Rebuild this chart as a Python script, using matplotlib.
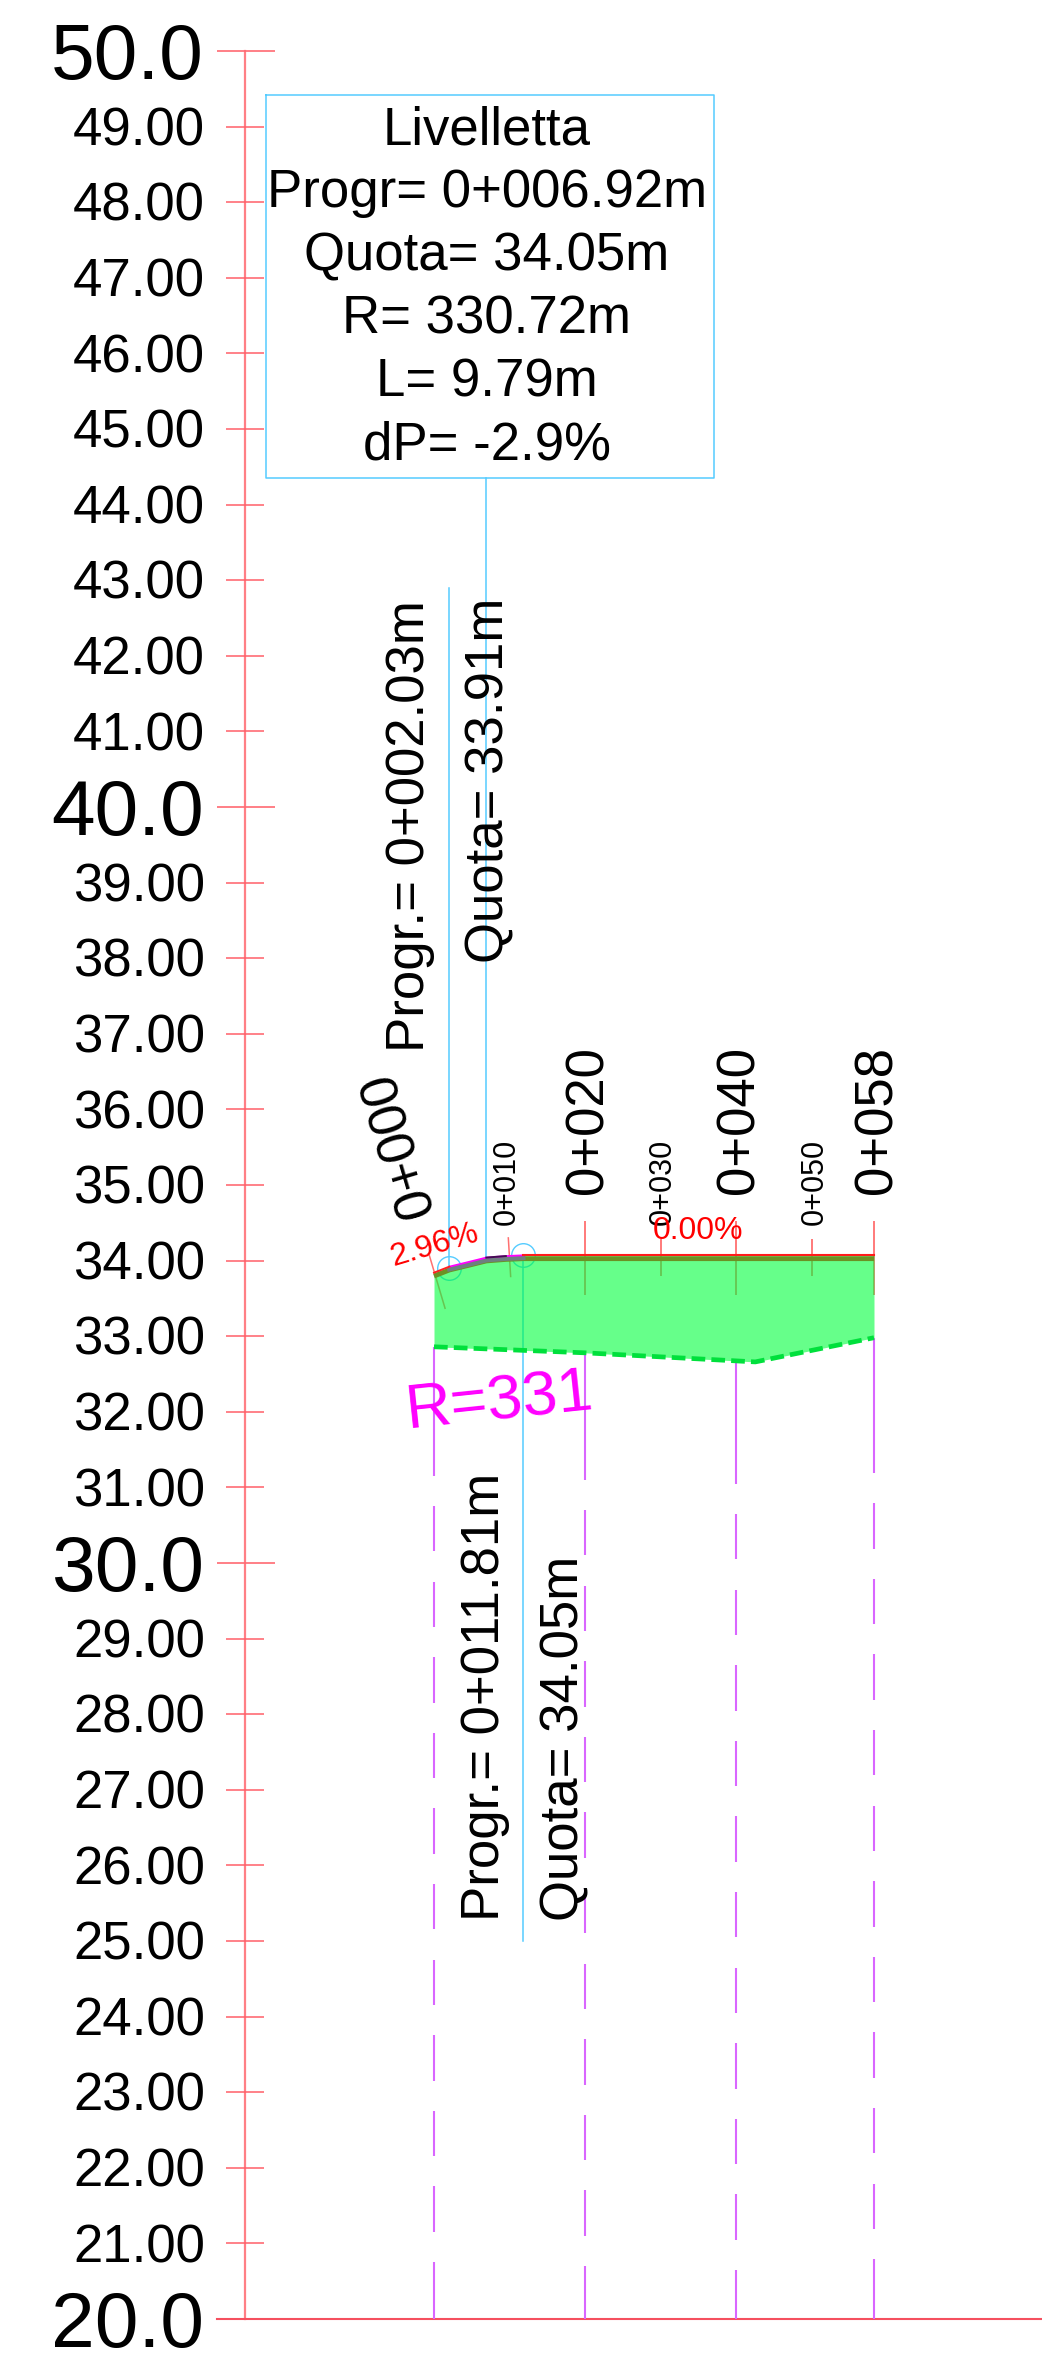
"""Profilo longitudinale: livelletta, terreno e sezione di scavo."""

import matplotlib

matplotlib.use("Agg")

import matplotlib.pyplot as plt
import numpy as np

plt.rcParams["font.family"] = ["Liberation Sans", "DejaVu Sans"]

# elevation axis
major_elev = [50, 40, 30, 20]
minor_elev = [49, 48, 47, 46, 45, 44, 43, 42, 41, 39, 38, 37, 36, 35, 34, 33,
              32, 31, 29, 28, 27, 26, 25, 24, 23, 22, 21]

# stations
major_ch = [20, 40, 58.2]
major_names = ["0+020", "0+040", "0+058"]
minor_ch = [30, 50]
minor_names = ["0+030", "0+050"]

# project grade line
grade_ch = [0, 2.03, 4.5, 6.92, 9.5, 11.81, 58.2]
grade_z = [33.84, 33.92, 33.98, 34.04, 34.06, 34.07, 34.07]

# ground line
ground_ch = [0, 20, 42.5, 58.2]
ground_z = [32.86, 32.78, 32.66, 32.98]

# drop lines at the main stations
drop_ch = [0, 20, 40, 58.2]
drop_top = [32.86, 32.78, 32.68, 32.98]
drop_phase = [20.754, 20.70, 20.648, 20.79]

box_lines = ["Livelletta", "Progr= 0+006.92m", "Quota= 34.05m", "R= 330.72m",
             "L= 9.79m", "dP= -2.9%"]
box_baseline = [48.76, 47.94, 47.10, 46.26, 45.43, 44.59]

PX_PER_M = 7.56
PX_PER_Z = 75.6
X0 = 434
Y50 = 51
W, H = 1042, 2371

RED = "#ff7f85"
CYAN = "#55ccff"
PURPLE = "#d966ff"

fig = plt.figure(figsize=(W / 100, H / 100), dpi=100)
ax = fig.add_axes([0, 0, 1, 1])
ax.set_xlim(-X0 / PX_PER_M, (W - X0) / PX_PER_M)
ax.set_ylim(50 - (H - Y50) / PX_PER_Z, 50 + Y50 / PX_PER_Z)
ax.axis("off")

# elevation ruler
ax.plot([-25, -25], [20, 50], color=RED, lw=1.6, zorder=1)
ax.plot([-28.75, (W - X0) / PX_PER_M], [20, 20], color="#f5505f", lw=1.5, zorder=1)
ax.hlines(minor_elev, -27.5, -22.5, color="#ff5f68", lw=1.1, zorder=1)
ax.hlines(major_elev[:-1], -28.75, -21, color="#ff6a72", lw=1.2, zorder=1)
for z in minor_elev:
    ax.text(-30.3, z - 0.247, f"{z:.2f}", ha="right", va="baseline", fontsize=38)
for z in major_elev:
    ax.text(-30.46, z - 0.37, f"{z:.1f}", ha="right", va="baseline", fontsize=56.5)

# dashed drop lines, one elevation unit per dash period
for ch, top, phase in zip(drop_ch, drop_top, drop_phase):
    upper = np.arange(phase, top - 0.3, 1.0)
    lower = np.maximum(upper - 0.6, 20)
    lower[0] = 20
    upper[-1] = top
    ax.vlines([ch] * len(upper), lower, upper, color=PURPLE, lw=1.5, zorder=1)

# station ticks
ax.vlines(major_ch, 33.54, 34.53, color="#ff7070", lw=1.3, zorder=2)
ax.vlines(minor_ch, 33.79, 34.28, color="#ff7070", lw=1.3, zorder=2)
ax.plot([-0.62, 1.46], [34.07, 33.37], color="#ff7070", lw=1.1, zorder=2)
ax.plot([9.83, 10.14], [34.30, 33.79], color="#ff7070", lw=1.1, zorder=2)

# survey leaders and their circles, under the fill
ax.plot([2.03, 2.03], [33.9, 42.9], color=CYAN, lw=1.1, zorder=2)
ax.plot([6.92, 6.92], [34.04, 44.35], color=CYAN, lw=1.1, zorder=2)
ax.plot([11.81, 11.81], [34.07, 25.0], color=CYAN, lw=1.1, zorder=2)
ax.plot([2.03, 11.81], [33.9, 34.07], ls="none", marker="o", ms=17, mfc="none",
        mec=CYAN, mew=1.0, zorder=2)

# excavated section
fill_ch = sorted(set(grade_ch + ground_ch))
ax.fill_between(fill_ch, np.interp(fill_ch, ground_ch, ground_z),
                np.interp(fill_ch, grade_ch, grade_z),
                color="#00ff3c", alpha=0.6, lw=0, zorder=3)

# grade line
ax.plot(grade_ch, np.array(grade_z) - 0.045, color="#6b9224", lw=3.4, zorder=4,
        solid_capstyle="butt")
ax.plot(grade_ch[1:6], np.array(grade_z[1:6]) - 0.035, color="#6e7f80", lw=3.2, zorder=4)
ax.plot(grade_ch[1:6], grade_z[1:6], color="#ff00ff", lw=1.3, zorder=5)
ax.plot(grade_ch[3:5], grade_z[3:5], color="#401050", lw=1.4, zorder=5)
ax.plot(grade_ch[:2], grade_z[:2], color="#ff2020", lw=1.4, zorder=5)
ax.plot(grade_ch[5:], grade_z[5:], color="#ff1a1a", lw=1.5, zorder=5)

# ground line
ax.plot(ground_ch, ground_z, color="#00e03c", lw=3.4, ls=(0, (2.9, 1.3)), zorder=5)

# station names
ax.text(-4.6, 35.54, "0+000", rotation=106.5, ha="center", va="center", fontsize=38)
for ch, name in zip(major_ch, major_names):
    ax.text(ch + 0.45, 34.88, name, rotation=90, ha="center", va="bottom", fontsize=38)
ax.text(9.65, 34.47, "0+010", rotation=90, ha="center", va="bottom", fontsize=22)
for ch, name in zip(minor_ch, minor_names):
    ax.text(ch + 0.3, 34.47, name, rotation=90, ha="center", va="bottom", fontsize=22)

# vertical callouts
ax.text(-3.17, 36.76, "Progr.= 0+002.03m", rotation=90, ha="center", va="bottom", fontsize=38)
ax.text(7.3, 37.94, "Quota= 33.91m", rotation=90, ha="center", va="bottom", fontsize=38)
ax.text(6.75, 25.26, "Progr.= 0+011.81m", rotation=90, ha="center", va="bottom", fontsize=38)
ax.text(17.3, 25.26, "Quota= 34.05m", rotation=90, ha="center", va="bottom", fontsize=38)

# slopes and radius
ax.text(0.1, 34.2, "2.96%", rotation=16.5, ha="center", va="center", color="#ff0000", fontsize=23)
ax.text(34.9, 34.39, "0.00%", ha="center", va="center", color="#ff0000", fontsize=23)
ax.text(8.7, 32.12, "R=331", rotation=6, ha="center", va="center", color="#ff00ff", fontsize=45.5)

# info box
ax.plot([-22.2, 37, 37, -22.2, -22.2], [49.42, 49.42, 44.35, 44.35, 49.42],
        color=CYAN, lw=1.1, zorder=2)
for line, z in zip(box_lines, box_baseline):
    ax.text(7, z, line, ha="center", va="baseline", fontsize=38)

fig.savefig("out.png", dpi=100)
plt.close(fig)
